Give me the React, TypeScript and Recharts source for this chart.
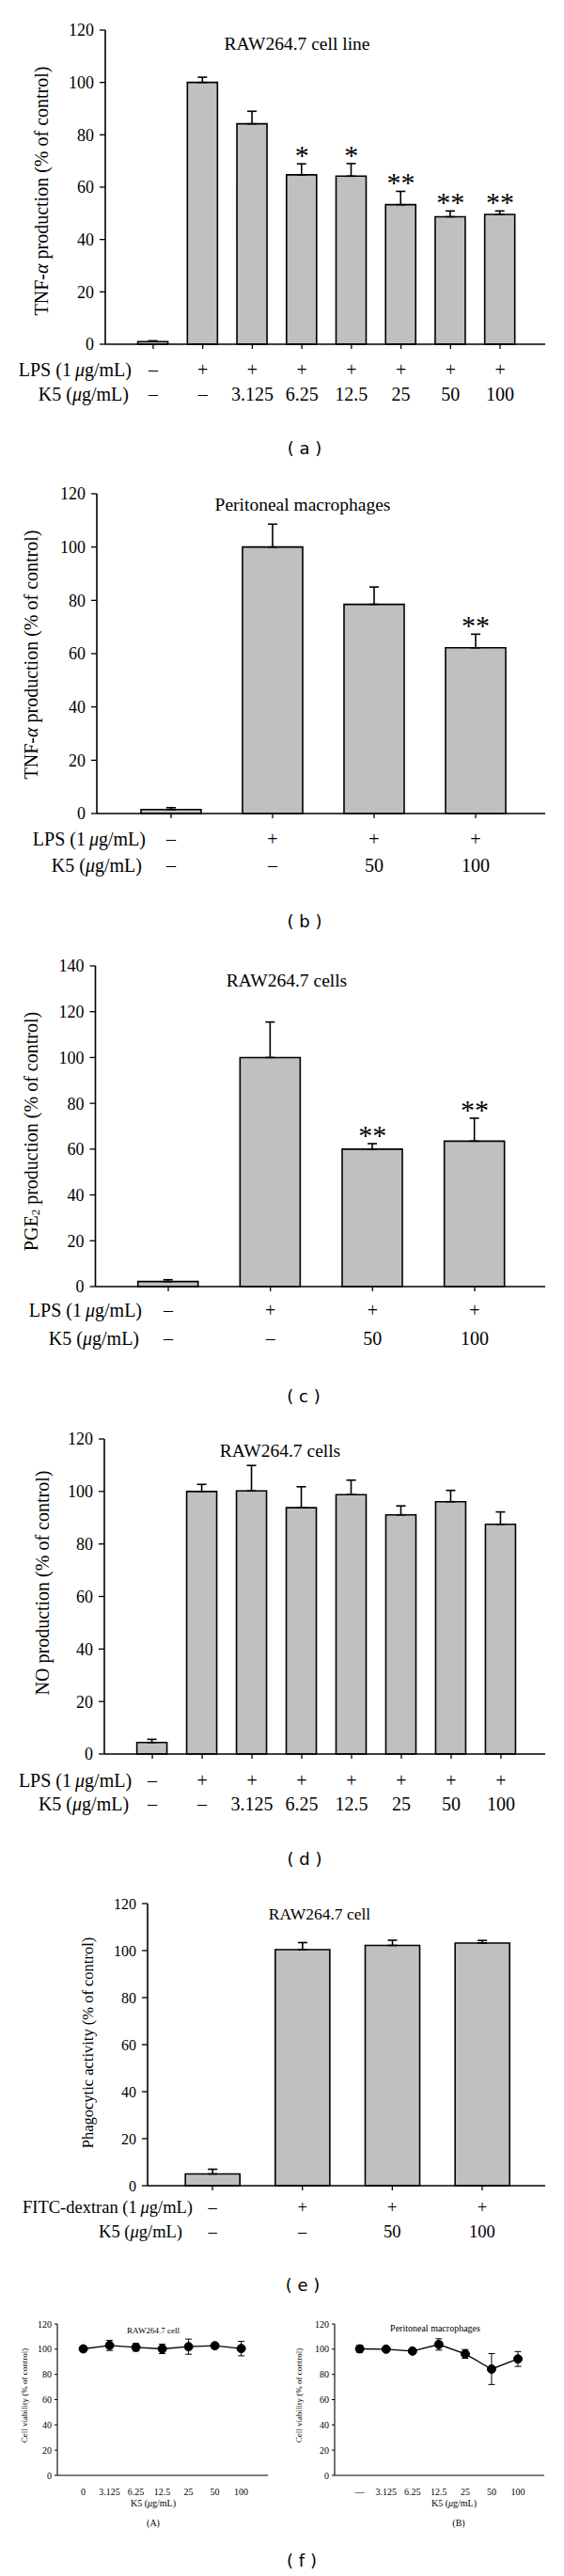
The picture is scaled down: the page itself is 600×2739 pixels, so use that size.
import React from 'react';
import { ComposedChart, LineChart, Bar, Line, XAxis, YAxis, ErrorBar } from 'recharts';

const SERIF = '"Liberation Serif", "Times New Roman", serif';
const SANS = '"DejaVu Sans", Verdana, sans-serif';

// shared treatment rows
const lpsEight = ['–', '+', '+', '+', '+', '+', '+', '+'];
const k5Eight = ['–', '–', '3.125', '6.25', '12.5', '25', '50', '100'];
const lpsFour = ['–', '+', '+', '+'];
const k5Four = ['–', '–', '50', '100'];
const fitcFour = ['–', '+', '+', '+'];

// (a) TNF-α, RAW264.7 cell line
const tnfRaw = [1, 100, 84.2, 64.7, 64.2, 53.3, 48.7, 49.6];
const tnfRawErr = [0.3, 2, 4.8, 4.2, 4.8, 5.1, 2.2, 1.3];
const tnfRawStars = ['', '', '', '*', '*', '**', '**', '**'];

// (b) TNF-α, peritoneal macrophages
const tnfPeri = [1.5, 100, 78.5, 62.2];
const tnfPeriErr = [0.7, 8.6, 6.5, 5.1];
const tnfPeriStars = ['', '', '', '**'];

// (c) PGE2
const pge = [2.2, 100, 60, 63.5];
const pgeErr = [0.8, 15.5, 2.4, 10];
const pgeStars = ['', '', '**', '**'];

// (d) NO
const no = [4.4, 100, 100.2, 93.8, 98.8, 91.1, 96.1, 87.5];
const noErr = [1.2, 2.7, 9.7, 8, 5.5, 3.4, 4.3, 4.7];

// (e) phagocytosis
const phago = [5, 100.4, 102.2, 103.2];
const phagoErr = [2, 3, 2.2, 1.1];

// (f) cell viability
const k5RawTicks = ['0', '3.125', '6.25', '12.5', '25', '50', '100'];
const k5PeriTicks = ['—', '3.125', '6.25', '12.5', '25', '50', '100'];
const viaRaw = [100.25, 103, 101.5, 100.25, 102, 102.75, 100.5];
const viaRawErr = [1.5, 4, 3, 3.75, 6, 1.5, 5.75];
const viaPeri = [100.25, 100, 98.5, 103.75, 96.25, 84.25, 92.25];
const viaPeriErr = [2.75, 1, 1.5, 4.5, 3.5, 12.25, 5.9];

const ticks120 = [0, 20, 40, 60, 80, 100, 120];
const ticks140 = [0, 20, 40, 60, 80, 100, 120, 140];

const mu = <tspan fontStyle="italic">μ</tspan>;
const lpsLabel = <>LPS (1{'\u2009'}{mu}g/mL)</>;
const k5Label = <>K5 ({mu}g/mL)</>;
const fitcLabel = <>FITC-dextran (1{'\u2009'}{mu}g/mL)</>;

function Txt({ x, y, size, font = SERIF, children }: any) {
  return (
    <div style={{ position: 'absolute', left: x, top: y, transform: 'translate(-50%, -50%)', whiteSpace: 'nowrap', fontSize: size, fontFamily: font, lineHeight: 1, color: '#000' }}>
      {children}
    </div>
  );
}

function VTxt({ x, y, size, children }: any) {
  return (
    <div style={{ position: 'absolute', left: x, top: y, transform: 'translate(-50%, -50%) rotate(-90deg)', whiteSpace: 'nowrap', fontSize: size, fontFamily: SERIF, lineHeight: 1, color: '#000' }}>
      {children}
    </div>
  );
}

const starDot = (props: any) => {
  const { cx, cy, payload, index } = props;
  if (!payload.star) return <g key={index} />;
  return (
    <text key={index} x={cx} y={cy + 1} textAnchor="middle" fontFamily={SERIF} fontSize={30} fill="#000">
      {payload.star}
    </text>
  );
};

// two rows of treatment labels under each bar, row names drawn once at the left
function RowTick(props: any) {
  const { x, y, index, rowA, rowB, dy, labels, gaps, size } = props;
  const common = { fontFamily: SERIF, fontSize: size, fill: '#000', dominantBaseline: 'central' } as any;
  return (
    <g>
      <text x={x} y={y + dy[0]} textAnchor="middle" {...common}>{rowA[index]}</text>
      <text x={x} y={y + dy[1]} textAnchor="middle" {...common}>{rowB[index]}</text>
      {index === 0 && (
        <>
          <text x={x - gaps[0]} y={y + dy[0]} textAnchor="end" {...common}>{labels[0]}</text>
          <text x={x - gaps[1]} y={y + dy[1]} textAnchor="end" {...common}>{labels[1]}</text>
        </>
      )}
    </g>
  );
}

function BarPanel(p: any) {
  const data = p.values.map((v: number, i: number) => ({
    id: i,
    v,
    e: [0, p.errors[i]],
    top: v + p.errors[i],
    star: p.stars ? p.stars[i] : '',
  }));
  const yW = 50;
  const height = p.bottom - p.top + 10 + 70;
  // tick text y = axis + tickSize(5) + tickMargin(2)
  const dy = [p.rowY[0] - 7, p.rowY[1] - 7];
  return (
    <div style={{ position: 'absolute', left: 0, top: p.top - 10 }}>
      <ComposedChart
        width={600}
        height={height}
        data={data}
        margin={{ top: 10, right: 600 - p.right, bottom: 0, left: p.left - yW }}
      >
        <XAxis
          dataKey="id"
          type="category"
          interval={0}
          height={70}
          padding={{ left: p.padL, right: p.padR }}
          axisLine={{ stroke: '#000', strokeWidth: 1.6 }}
          tickLine={{ stroke: '#000', strokeWidth: 1.3 }}
          tickSize={5}
          tick={(t: any) => (
            <RowTick {...t} rowA={p.rowA} rowB={p.rowB} dy={dy} labels={p.labels} gaps={p.gaps} size={p.rowSize} />
          )}
        />
        <YAxis
          width={yW}
          domain={[0, p.yMax]}
          ticks={p.yTicks}
          interval={0}
          axisLine={{ stroke: '#000', strokeWidth: 1.6 }}
          tickLine={{ stroke: '#000', strokeWidth: 1.3 }}
          tickSize={6}
          tickMargin={6}
          tick={{ fill: '#000', fontSize: p.tickSize, fontFamily: SERIF }}
        />
        <Bar dataKey="v" fill="#c0c0c0" stroke="#000" strokeWidth={1.6} barSize={p.barSize} isAnimationActive={false}>
          <ErrorBar dataKey="e" width={5} stroke="#000" strokeWidth={1.6} direction="y" />
        </Bar>
        {p.stars && (
          <Line dataKey="top" stroke="none" dot={starDot} activeDot={false} legendType="none" isAnimationActive={false} />
        )}
      </ComposedChart>
    </div>
  );
}

function ViabilityPanel(p: any) {
  const data = p.values.map((v: number, i: number) => ({ k: p.ticks[i], v, e: p.errors[i] }));
  const yW = 30;
  const x0 = p.left - yW - 5;
  const height = p.bottom - p.top + 10 + 25;
  return (
    <div style={{ position: 'absolute', left: x0, top: p.top - 10 }}>
      <LineChart
        width={p.right - x0 + 10}
        height={height}
        data={data}
        margin={{ top: 10, right: 10, bottom: 0, left: 5 }}
      >
        <XAxis
          dataKey="k"
          type="category"
          scale="point"
          interval={0}
          height={25}
          padding={{ left: p.padL, right: p.padR }}
          axisLine={{ stroke: '#000', strokeWidth: 1.1 }}
          tickLine={false}
          tickMargin={8}
          tick={{ fill: '#000', fontSize: 10, fontFamily: SERIF }}
        />
        <YAxis
          width={yW}
          domain={[0, 120]}
          ticks={ticks120}
          interval={0}
          axisLine={{ stroke: '#000', strokeWidth: 1.1 }}
          tickLine={{ stroke: '#000', strokeWidth: 1 }}
          tickSize={3}
          tickMargin={3}
          tick={{ fill: '#000', fontSize: 10, fontFamily: SERIF }}
        />
        <Line
          dataKey="v"
          stroke="#000"
          strokeWidth={1.3}
          dot={{ r: 4.5, fill: '#000', stroke: '#000', strokeWidth: 1 }}
          activeDot={false}
          isAnimationActive={false}
        >
          <ErrorBar dataKey="e" width={3.5} stroke="#000" strokeWidth={1} direction="y" />
        </Line>
      </LineChart>
    </div>
  );
}

export default function App() {
  return (
    <div style={{ position: 'absolute', left: 0, top: 0, width: 600, height: 2739, background: '#fff', overflow: 'hidden' }}>
      {/* (a) */}
      <BarPanel
        values={tnfRaw} errors={tnfRawErr} stars={tnfRawStars}
        rowA={lpsEight} rowB={k5Eight} labels={[lpsLabel, k5Label]} gaps={[23, 26]}
        left={112} right={580} top={32} bottom={366} yMax={120} yTicks={ticks120}
        padL={24.6} padR={21.6} barSize={32} rowY={[27, 53]} rowSize={20} tickSize={18}
      />
      <Txt x={316} y={47} size={19.5}>RAW264.7 cell line</Txt>
      <VTxt x={44} y={203} size={20}>TNF-<i>α</i> production (% of control)</VTxt>
      <Txt x={324} y={477} size={18} font={SANS}>( a )</Txt>

      {/* (b) */}
      <BarPanel
        values={tnfPeri} errors={tnfPeriErr} stars={tnfPeriStars}
        rowA={lpsFour} rowB={k5Four} labels={[lpsLabel, k5Label]} gaps={[27, 31]}
        left={103} right={580} top={525} bottom={865} yMax={120} yTicks={ticks120}
        padL={25} padR={20} barSize={64} rowY={[27, 55]} rowSize={20} tickSize={18}
      />
      <Txt x={322} y={537} size={19.5}>Peritoneal macrophages</Txt>
      <VTxt x={33} y={696} size={20}>TNF-<i>α</i> production (% of control)</VTxt>
      <Txt x={324} y={980} size={18} font={SANS}>( b )</Txt>

      {/* (c) */}
      <BarPanel
        values={pge} errors={pgeErr} stars={pgeStars}
        rowA={lpsFour} rowB={k5Four} labels={[lpsLabel, k5Label]} gaps={[28, 31]}
        left={101.5} right={580} top={1027} bottom={1368} yMax={140} yTicks={ticks140}
        padL={23.2} padR={20.7} barSize={64} rowY={[25, 55]} rowSize={20} tickSize={18}
      />
      <Txt x={305} y={1043} size={19.5}>RAW264.7 cells</Txt>
      <VTxt x={33} y={1203} size={20}>PGE<sub style={{ fontSize: '0.65em', verticalAlign: 'baseline', position: 'relative', top: '0.15em' }}>2</sub> production (% of control)</VTxt>
      <Txt x={323} y={1485} size={18} font={SANS}>( c )</Txt>

      {/* (d) */}
      <BarPanel
        values={no} errors={noErr}
        rowA={lpsEight} rowB={k5Eight} labels={[lpsLabel, k5Label]} gaps={[22, 25]}
        left={111} right={580} top={1530} bottom={1865} yMax={120} yTicks={ticks120}
        padL={24.6} padR={20.6} barSize={32} rowY={[28, 53]} rowSize={20} tickSize={18}
      />
      <Txt x={298} y={1543} size={19.5}>RAW264.7 cells</Txt>
      <VTxt x={45} y={1683} size={20}>NO production (% of control)</VTxt>
      <Txt x={324} y={1977} size={18} font={SANS}>( d )</Txt>

      {/* (e) */}
      <BarPanel
        values={phago} errors={phagoErr}
        rowA={fitcFour} rowB={k5Four} labels={[fitcLabel, k5Label]} gaps={[21, 32]}
        left={157} right={580} top={2024} bottom={2324} yMax={120} yTicks={ticks120}
        padL={21.2} padR={19.2} barSize={58} rowY={[23, 49]} rowSize={18.5} tickSize={16}
      />
      <Txt x={340} y={2036} size={17.5}>RAW264.7 cell</Txt>
      <VTxt x={94} y={2172} size={16.5}>Phagocytic activity (% of control)</VTxt>
      <Txt x={322} y={2430} size={18} font={SANS}>( e )</Txt>

      {/* (f) */}
      <ViabilityPanel
        ticks={k5RawTicks} values={viaRaw} errors={viaRawErr}
        left={60.7} right={285} top={2471} bottom={2632} padL={27.6} padR={28.7}
      />
      <Txt x={163} y={2478} size={9}>RAW264.7 cell</Txt>
      <VTxt x={26} y={2547} size={9}>Cell viability (% of control)</VTxt>
      <Txt x={163} y={2662} size={10}>K5 (<i>μ</i>g/mL)</Txt>
      <Txt x={163} y={2683} size={10}>(A)</Txt>

      <ViabilityPanel
        ticks={k5PeriTicks} values={viaPeri} errors={viaPeriErr}
        left={356} right={579} top={2471} bottom={2632} padL={26.7} padR={28}
      />
      <Txt x={463} y={2476} size={10}>Peritoneal macrophages</Txt>
      <VTxt x={318} y={2547} size={9}>Cell viability (% of control)</VTxt>
      <Txt x={483} y={2662} size={10}>K5 (<i>μ</i>g/mL)</Txt>
      <Txt x={488} y={2683} size={10}>(B)</Txt>

      <Txt x={321} y={2723} size={18} font={SANS}>( f )</Txt>
    </div>
  );
}
